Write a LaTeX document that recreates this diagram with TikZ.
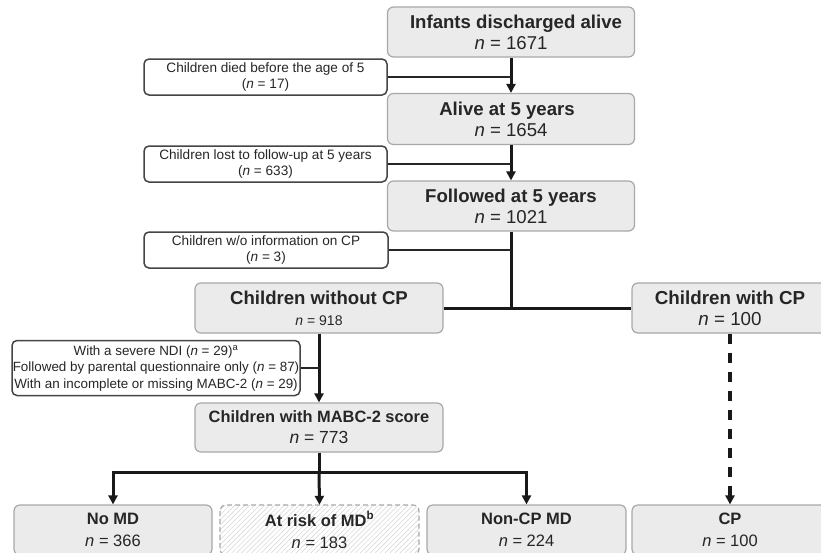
\documentclass[tikz,border=0pt]{standalone}
\usepackage{fontspec}
\setmainfont{Liberation Sans}
\usetikzlibrary{arrows.meta,patterns.meta}
\definecolor{boxfill}{HTML}{EBEBEB}
\definecolor{boxline}{HTML}{A8A8A8}
\definecolor{sideline}{HTML}{454545}
\definecolor{txt}{HTML}{262626}
\definecolor{hatchc}{HTML}{D2D2D2}
\newcommand\nn[1]{\textit{n} = #1}
\begin{document}
\begin{tikzpicture}[x=1pt,y=-1pt,
  mainbox/.style={draw=boxline, fill=boxfill, rounded corners=6pt, line width=1.2pt,
    inner sep=0pt, align=center, text=txt, font=\fontsize{18.6}{21}\selectfont},
  sidebox/.style={draw=sideline, fill=white, rounded corners=5pt, line width=1.5pt,
    inner sep=0pt, align=center, text=txt, font=\fontsize{13.6}{15.5}\selectfont},
  botbox/.style={mainbox, minimum width=198pt, minimum height=50pt, font=\fontsize{16.5}{22}\selectfont},
  mainline/.style={line width=3pt, draw=black!90},
  sideconn/.style={line width=1.8pt, draw=black!85},
  tip/.style={-{Triangle[length=9pt,width=9pt]}},
]
\useasboundingbox (0,0) rectangle (821,552);

% main column
\node[mainbox, minimum width=247pt, minimum height=50pt] (inf) at (511,32)
  {\hspace*{10pt}\textbf{Infants discharged alive}\\\nn{1671}};
\node[mainbox, minimum width=247pt, minimum height=51pt] (alive) at (511,119)
  {\textbf{Alive at 5 years}\hspace*{8pt}\\\nn{1654}};
\node[mainbox, minimum width=247pt, minimum height=50pt] (fol) at (511,206)
  {\textbf{Followed at 5 years}\\\nn{1021}};

% side boxes
\node[sidebox, minimum width=243pt, minimum height=36pt] (died) at (265.5,77)
  {Children died before the age of 5\\(\nn{17})};
\node[sidebox, minimum width=243pt, minimum height=36pt] (lost) at (265.5,164)
  {Children lost to follow-up at 5 years\\(\nn{633})};
\node[sidebox, minimum width=244pt, minimum height=36pt] (wo) at (266,250)
  {Children w/o information on CP\\(\nn{3})};

% split
\node[mainbox, minimum width=248pt, minimum height=50pt, font=\fontsize{18.6}{21}\selectfont] (nocp) at (319,308)
  {\textbf{Children without CP}\\{\fontsize{14}{21}\selectfont\nn{918}}};
\node[mainbox, minimum width=196pt, minimum height=50pt, font=\fontsize{18.8}{21}\selectfont] (cpw) at (730,308)
  {\textbf{Children with CP}\\\nn{100}};

\node[sidebox, minimum width=288pt, minimum height=55pt, font=\fontsize{13.4}{16.5}\selectfont] (ndi) at (156,368)
  {With a severe NDI (\nn{29})\textsuperscript{a}\\Followed by parental questionnaire only (\nn{87})\\With an incomplete or missing MABC-2 (\nn{29})};

\node[mainbox, minimum width=248pt, minimum height=49pt, font=\fontsize{16.4}{21}\selectfont] (mabc) at (319,427.5)
  {\textbf{Children with MABC-2 score}\\{\fontsize{17.5}{21}\selectfont\nn{773}}};

% bottom row
\node[botbox] (nomd) at (113,530) {\textbf{No MD}\\\nn{366}};
\draw[draw=boxline, line width=1.2pt, rounded corners=6pt, dash pattern=on 5pt off 3pt,
  pattern={Lines[angle=45,distance=3.5pt,line width=0.5pt]}, pattern color=hatchc]
  (220,505) rectangle (419,555);
\node[align=center, text=txt, inner sep=0pt, minimum width=199pt, minimum height=50pt,
  font=\fontsize{16.5}{22}\selectfont] (risk) at (319.5,530) {\textbf{At risk of MD\textsuperscript{b}}\\\nn{183}};
\node[botbox, minimum width=199pt] (noncp) at (526.5,530) {\textbf{Non-CP MD}\\\nn{224}};
\node[botbox, minimum width=196pt] (cp) at (730,530) {\textbf{CP}\\\nn{100}};

% connectors main column
\draw[mainline, tip] (inf.south) -- (alive.north);
\draw[mainline, tip] (alive.south) -- (fol.north);
\draw[sideconn] (died.east) -- (died.east -| inf.south);
\draw[sideconn] (lost.east) -- (lost.east -| alive.south);
\coordinate (junc) at (fol.south |- nocp.east);
\draw[mainline] (fol.south) -- (junc);
\draw[sideconn] (wo.east) -- (wo.east -| fol.south);
\draw[mainline] (nocp.east) -- (cpw.west);

\draw[mainline, tip] (nocp.south) -- (mabc.north);
\draw[sideconn] (ndi.east) -- (ndi.east -| nocp.south);

\coordinate (hb) at (319,472);
\draw[mainline] (mabc.south) -- (hb);
\draw[mainline, tip] (hb) -| (nomd.north);
\draw[mainline, tip] (hb) -| (noncp.north);
\draw[mainline, tip] (hb) -- (risk.north);

\draw[mainline, tip, line width=3.4pt, dash pattern=on 10pt off 9pt] (cpw.south) -- (cp.north);
\end{tikzpicture}
\end{document}
